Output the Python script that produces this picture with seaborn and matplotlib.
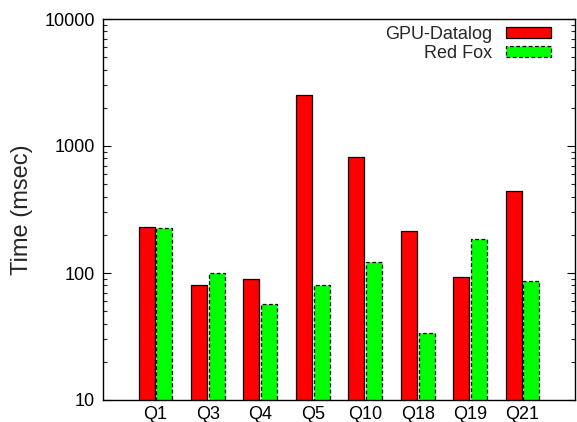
import matplotlib
matplotlib.use("Agg")
import matplotlib.pyplot as plt
import matplotlib.ticker as mticker
import seaborn as sns
import pandas as pd

queries = ["Q1", "Q3", "Q4", "Q5", "Q10", "Q18", "Q19", "Q21"]
gpu_datalog = [231, 81, 90, 2520, 815, 214, 93, 440]
red_fox = [226, 100, 57, 80, 122, 34, 186, 86]
systems = ["GPU-Datalog", "Red Fox"]
colors = ["#ff0000", "#00ff00"]

df = pd.DataFrame({
    "query": queries * 2,
    "time": gpu_datalog + red_fox,
    "system": [systems[0]] * len(queries) + [systems[1]] * len(queries),
})

sns.set_style("white")
plt.rcParams["font.family"] = ["Liberation Sans", "DejaVu Sans"]

fig = plt.figure(figsize=(5.77, 4.22), dpi=100)
ax = fig.add_axes([103 / 577, 22 / 422, 472 / 577, 381 / 422])

sns.barplot(data=df, x="query", y="time", hue="system", palette=colors,
            width=0.68, gap=0.1, ax=ax, saturation=1, legend=True)

ax.set_yscale("log")
ax.set_ylim(10, 10000)
ax.set_xlim(-1, 8)

# outlines: solid for the first series, dashed for the second
styles = ["-", (0, (3, 2))]
for cont, ls in zip(ax.containers, styles):
    for bar in cont:
        bar.set_edgecolor("black")
        bar.set_linewidth(0.9)
        bar.set_linestyle(ls)

ax.yaxis.set_major_locator(mticker.FixedLocator([10, 100, 1000, 10000]))
ax.yaxis.set_major_formatter(mticker.FixedFormatter(["10", "100", "1000", "10000"]))
ax.yaxis.set_minor_locator(mticker.LogLocator(base=10, subs=range(2, 10)))
ax.yaxis.set_minor_formatter(mticker.NullFormatter())
ax.tick_params(axis="y", which="major", direction="in", length=6, width=0.8,
               left=True, right=True, labelsize=13, pad=6, colors="black")
ax.tick_params(axis="y", which="minor", direction="in", length=3, width=0.8,
               left=True, right=True)
ax.tick_params(axis="x", length=0, labelsize=13, pad=4, colors="black")

for s in ax.spines.values():
    s.set_visible(True)
    s.set_color("black")
    s.set_linewidth(1.0)

ax.set_xlabel("")
ax.set_ylabel("Time (msec)", fontsize=17, labelpad=8)

leg = ax.legend(loc="upper right", frameon=False, markerfirst=False,
                fontsize=13, handlelength=2.5, handleheight=0.55,
                handletextpad=0.75, labelspacing=0.1,
                borderaxespad=0.0, bbox_to_anchor=(0.964, 1.0))
for h, ls in zip(leg.legend_handles, styles):
    h.set_edgecolor("black")
    h.set_linewidth(0.9)
    h.set_linestyle(ls)

fig.savefig("out.png", dpi=100)
